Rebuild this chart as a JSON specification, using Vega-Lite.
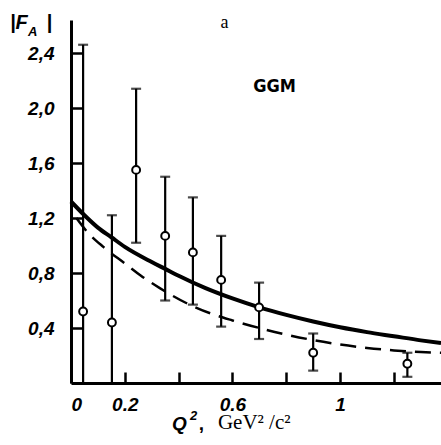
{
  "$schema": "https://vega.github.io/schema/vega-lite/v6.json",
  "width": 370,
  "height": 363,
  "autosize": {"type": "none"},
  "padding": {"left": 71, "top": 20, "right": 0, "bottom": 62},
  "background": "white",
  "config": {
    "view": {"stroke": null},
    "axis": {"grid": false, "domainColor": "black", "domainWidth": 3, "tickColor": "black", "tickWidth": 2.5, "labelColor": "black", "labelFont": "Liberation Sans", "labelFontStyle": "italic", "labelFontWeight": "bold", "labelFontSize": 19}
  },
  "datasets": {
    "points": [
      {"q2": 0.045, "f": 0.52, "lo": 0.0, "hi": 2.46},
      {"q2": 0.152, "f": 0.44, "lo": 0.0, "hi": 1.22},
      {"q2": 0.242, "f": 1.55, "lo": 1.02, "hi": 2.14},
      {"q2": 0.35, "f": 1.07, "lo": 0.60, "hi": 1.50},
      {"q2": 0.453, "f": 0.95, "lo": 0.57, "hi": 1.35},
      {"q2": 0.558, "f": 0.75, "lo": 0.41, "hi": 1.07},
      {"q2": 0.699, "f": 0.55, "lo": 0.32, "hi": 0.73},
      {"q2": 0.90, "f": 0.22, "lo": 0.09, "hi": 0.36},
      {"q2": 1.25, "f": 0.14, "lo": 0.045, "hi": 0.22}
    ],
    "solid": [
      {"q2": 0.0, "f": 1.32}, {"q2": 0.05, "f": 1.22}, {"q2": 0.1, "f": 1.13},
      {"q2": 0.15, "f": 1.06}, {"q2": 0.2, "f": 0.99}, {"q2": 0.3, "f": 0.88},
      {"q2": 0.35, "f": 0.83}, {"q2": 0.4, "f": 0.78}, {"q2": 0.5, "f": 0.69},
      {"q2": 0.6, "f": 0.615}, {"q2": 0.7, "f": 0.55}, {"q2": 0.8, "f": 0.495},
      {"q2": 0.9, "f": 0.447}, {"q2": 1.0, "f": 0.405}, {"q2": 1.1, "f": 0.37},
      {"q2": 1.2, "f": 0.34}, {"q2": 1.3, "f": 0.31}, {"q2": 1.375, "f": 0.29}
    ],
    "dashed": [
      {"q2": 0.02, "f": 1.2}, {"q2": 0.06, "f": 1.1}, {"q2": 0.12, "f": 0.99},
      {"q2": 0.2, "f": 0.87}, {"q2": 0.26, "f": 0.78}, {"q2": 0.33, "f": 0.69},
      {"q2": 0.43, "f": 0.58}, {"q2": 0.52, "f": 0.505}, {"q2": 0.6, "f": 0.455},
      {"q2": 0.7, "f": 0.40}, {"q2": 0.8, "f": 0.352}, {"q2": 0.9, "f": 0.312},
      {"q2": 1.0, "f": 0.28}, {"q2": 1.1, "f": 0.255}, {"q2": 1.2, "f": 0.237},
      {"q2": 1.3, "f": 0.225}, {"q2": 1.375, "f": 0.22}
    ],
    "labels": [
      {"q2": 0.677, "f": 2.15, "t": "GGM"}
    ]
  },
  "layer": [
    {
      "data": {"name": "points"},
      "mark": {"type": "rule", "color": "black", "strokeWidth": 2.2},
      "encoding": {
        "x": {"field": "q2", "type": "quantitative", "scale": {"domain": [0, 1.375], "nice": false},
          "axis": {"title": null, "values": [0, 0.2, 0.4, 0.6, 0.8, 1.0, 1.2], "tickSize": -11, "labelPadding": 23, "labelDx": -7,
            "labelExpr": "datum.value == 0 ? '0' : abs(datum.value - 0.2) < 0.01 ? '0.2' : abs(datum.value - 0.6) < 0.01 ? '0.6' : abs(datum.value - 1) < 0.01 ? '1' : ''"}},
        "y": {"field": "lo", "type": "quantitative", "scale": {"domain": [0, 2.64], "nice": false},
          "axis": {"title": null, "values": [0.4, 0.8, 1.2, 1.6, 2.0, 2.4], "tickSize": -12, "labelPadding": 29,
            "labelExpr": "replace(format(datum.value, '.1f'), '.', ',')"}},
        "y2": {"field": "hi"}
      }
    },
    {
      "data": {"name": "points"},
      "mark": {"type": "tick", "orient": "horizontal", "color": "black", "size": 10, "thickness": 2.2},
      "encoding": {
        "x": {"field": "q2", "type": "quantitative"},
        "y": {"field": "hi", "type": "quantitative"}
      }
    },
    {
      "data": {"name": "points"},
      "transform": [{"filter": "datum.lo > 0"}],
      "mark": {"type": "tick", "orient": "horizontal", "color": "black", "size": 10, "thickness": 2.2},
      "encoding": {
        "x": {"field": "q2", "type": "quantitative"},
        "y": {"field": "lo", "type": "quantitative"}
      }
    },
    {
      "data": {"name": "solid"},
      "mark": {"type": "line", "color": "black", "strokeWidth": 4, "interpolate": "monotone"},
      "encoding": {
        "x": {"field": "q2", "type": "quantitative"},
        "y": {"field": "f", "type": "quantitative"}
      }
    },
    {
      "data": {"name": "dashed"},
      "mark": {"type": "line", "color": "black", "strokeWidth": 2.5, "strokeDash": [16, 9], "interpolate": "monotone"},
      "encoding": {
        "x": {"field": "q2", "type": "quantitative"},
        "y": {"field": "f", "type": "quantitative"}
      }
    },
    {
      "data": {"name": "points"},
      "mark": {"type": "point", "shape": "circle", "filled": false, "fill": "white", "fillOpacity": 1, "stroke": "black", "strokeWidth": 2, "size": 62},
      "encoding": {
        "x": {"field": "q2", "type": "quantitative"},
        "y": {"field": "f", "type": "quantitative"}
      }
    },
    {
      "data": {"name": "labels"},
      "mark": {"type": "text", "align": "left", "baseline": "middle", "font": "Liberation Sans Narrow, DejaVu Sans Condensed, Liberation Sans", "fontWeight": "bold", "fontSize": 18, "color": "black"},
      "encoding": {
        "x": {"field": "q2", "type": "quantitative"},
        "y": {"field": "f", "type": "quantitative"},
        "text": {"field": "t"}
      }
    },
    {
      "data": {"values": [{"q2": -0.227, "f": 2.62, "t": "|F"}]},
      "mark": {"type": "text", "align": "left", "baseline": "middle", "font": "Liberation Sans", "fontStyle": "italic", "fontWeight": "bold", "fontSize": 20, "color": "black"},
      "encoding": {"x": {"field": "q2", "type": "quantitative"}, "y": {"field": "f", "type": "quantitative"}, "text": {"field": "t"}}
    },
    {
      "data": {"values": [{"q2": -0.16, "f": 2.55, "t": "A"}]},
      "mark": {"type": "text", "align": "left", "baseline": "middle", "font": "Liberation Sans", "fontStyle": "italic", "fontWeight": "bold", "fontSize": 13, "color": "black"},
      "encoding": {"x": {"field": "q2", "type": "quantitative"}, "y": {"field": "f", "type": "quantitative"}, "text": {"field": "t"}}
    },
    {
      "data": {"values": [{"q2": -0.09, "f": 2.62, "t": "|"}]},
      "mark": {"type": "text", "align": "left", "baseline": "middle", "font": "Liberation Sans", "fontWeight": "bold", "fontSize": 20, "color": "black"},
      "encoding": {"x": {"field": "q2", "type": "quantitative"}, "y": {"field": "f", "type": "quantitative"}, "text": {"field": "t"}}
    },
    {
      "data": {"values": [{"q2": 0.57, "f": 2.58, "t": "a"}]},
      "mark": {"type": "text", "align": "center", "baseline": "alphabetic", "font": "Liberation Serif", "fontSize": 18, "color": "black"},
      "encoding": {"x": {"field": "q2", "type": "quantitative"}, "y": {"field": "f", "type": "quantitative"}, "text": {"field": "t"}}
    },
    {
      "data": {"values": [{"q2": 0.375, "f": -0.345, "t": "Q"}]},
      "mark": {"type": "text", "align": "left", "baseline": "alphabetic", "font": "Liberation Sans", "fontStyle": "italic", "fontWeight": "bold", "fontSize": 19, "color": "black"},
      "encoding": {"x": {"field": "q2", "type": "quantitative"}, "y": {"field": "f", "type": "quantitative"}, "text": {"field": "t"}}
    },
    {
      "data": {"values": [{"q2": 0.442, "f": -0.27, "t": "2"}]},
      "mark": {"type": "text", "align": "left", "baseline": "alphabetic", "font": "Liberation Sans", "fontStyle": "italic", "fontWeight": "bold", "fontSize": 13, "color": "black"},
      "encoding": {"x": {"field": "q2", "type": "quantitative"}, "y": {"field": "f", "type": "quantitative"}, "text": {"field": "t"}}
    },
    {
      "data": {"values": [{"q2": 0.475, "f": -0.345, "t": ","}]},
      "mark": {"type": "text", "align": "left", "baseline": "alphabetic", "font": "Liberation Sans", "fontWeight": "bold", "fontSize": 19, "color": "black"},
      "encoding": {"x": {"field": "q2", "type": "quantitative"}, "y": {"field": "f", "type": "quantitative"}, "text": {"field": "t"}}
    },
    {
      "data": {"values": [{"q2": 0.546, "f": -0.335, "t": "GeV² /c²"}]},
      "mark": {"type": "text", "align": "left", "baseline": "alphabetic", "font": "Liberation Serif", "fontSize": 21, "color": "black"},
      "encoding": {"x": {"field": "q2", "type": "quantitative"}, "y": {"field": "f", "type": "quantitative"}, "text": {"field": "t"}}
    }
  ]
}
